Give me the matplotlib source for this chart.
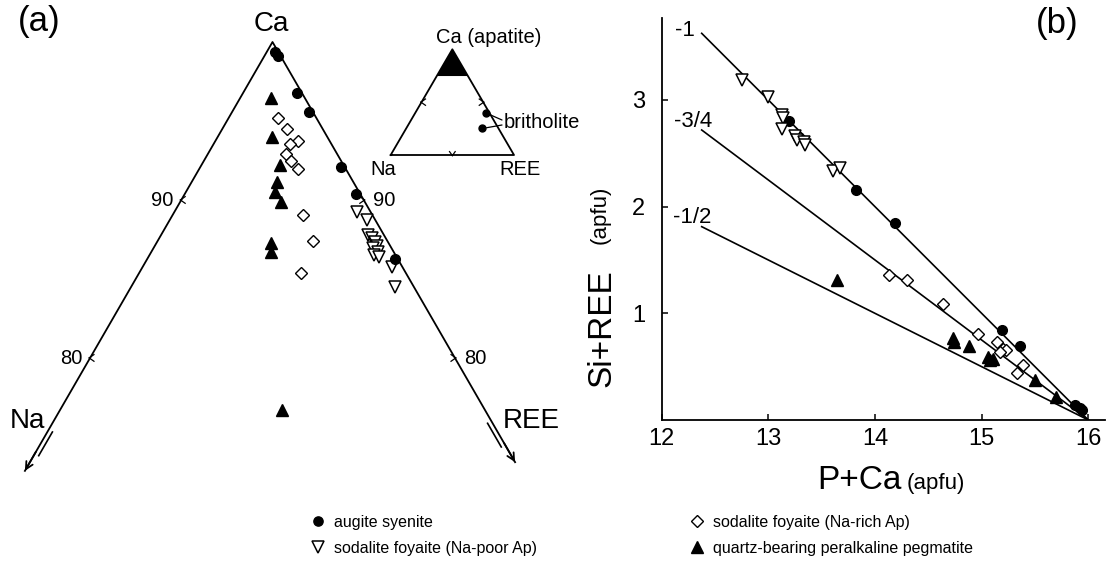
import numpy as np
import matplotlib.pyplot as plt

plt.rcParams['font.family'] = ['Liberation Sans', 'DejaVu Sans']

W, H = 1106, 568          # figure size in pixels
R3 = np.sqrt(3) / 2

# ---- (a) Ca-Na-REE ternary, atom %  (Ca = 100 - Na - REE)
aug_na = [0.17, 0.13, 0.25, 0.19, 0.21, 0.26, 0.16]
aug_ree = [0.44, 0.76, 2.96, 4.22, 7.68, 9.38, 13.59]

napoor_na = [0.75, 0.47, 0.87, 0.75, 0.71, 0.73, 1.01, 0.86, 1.18, 0.97, 0.57, 1.03]
napoor_ree = [9.99, 10.80, 11.34, 11.66, 11.95, 12.19, 12.03, 12.43, 12.31, 12.65, 13.65, 14.46]

narich_na = [2.13, 1.98, 1.71, 2.27, 2.80, 2.74, 2.61, 3.82, 4.09, 5.75]
narich_ree = [2.70, 3.54, 4.54, 4.19, 4.28, 4.77, 5.44, 7.13, 8.49, 8.85]

qtz_na = [1.88, 3.04, 3.48, 4.16, 4.60, 4.59, 6.47, 6.74, 11.12]
qtz_ree = [1.68, 2.95, 4.30, 4.68, 4.87, 5.52, 6.27, 6.54, 12.17]

side_ticks = [90, 80]
na_end, ree_end = 72.85, 73.4      # Ca value where the side arrows stop

# inset: apatite field and britholite points
apatite_ca = 74.7
brith_na = [2.55, 13.05]
brith_ree = [57.85, 61.85]

# ---- (b) Si+REE vs P+Ca (apfu)
aug_pca = [13.19, 13.82, 14.19, 15.19, 15.36, 15.875, 15.92, 15.94]
aug_sree = [2.80, 2.16, 1.85, 0.84, 0.69, 0.14, 0.11, 0.09]
napoor_pca = [12.75, 13.0, 13.125, 13.14, 13.125, 13.25, 13.27, 13.33, 13.34, 13.61, 13.67]
napoor_sree = [3.19, 3.025, 2.86, 2.83, 2.73, 2.66, 2.625, 2.61, 2.58, 2.33, 2.36]
narich_pca = [14.13, 14.30, 14.64, 14.97, 15.14, 15.20, 15.23, 15.17, 15.39, 15.33]
narich_sree = [1.36, 1.31, 1.09, 0.81, 0.73, 0.67, 0.66, 0.64, 0.52, 0.44]
qtz_pca = [13.64, 14.73, 14.74, 14.88, 15.06, 15.08, 15.11, 15.5, 15.70]
qtz_sree = [1.31, 0.77, 0.73, 0.69, 0.59, 0.56, 0.57, 0.375, 0.22]

slopes = [1.0, 0.75, 0.5]
slope_labels = ['-1', '-3/4', '-1/2']
slope_label_pos = [(12.22, 3.65), (12.29, 2.80), (12.29, 1.90)]
line_x0, line_x1 = 12.375, 16.0


def tern(na, ree):
    na = np.asarray(na, float)
    ree = np.asarray(ree, float)
    return (ree - na) / 2, (100 - na - ree) * R3


def pix(x, y):
    return x / W, 1 - y / H


def chevron(ax, x, y, ang, size, lw=0.9):
    # small arrow-like tick: vertex at (x, y), arms opening towards ang
    a = np.deg2rad(ang)
    for s in (-35, 35):
        b = a + np.deg2rad(s)
        ax.plot([x, x + size * np.cos(b)], [y, y + size * np.sin(b)],
                color='k', lw=lw, clip_on=False)


fig = plt.figure(figsize=(W / 100, H / 100), dpi=100)

# ---------------- panel (a) ----------------
sc = 18.24   # pixels per ternary unit
axa = fig.add_axes([0, 0, 1, 1])
axa.set_xlim(-272.5 / sc, (W - 272.5) / sc)
axa.set_ylim(100 * R3 - (H - 42) / sc, 100 * R3 + 42 / sc)
axa.axis('off')

xn, yn = tern(100 - na_end, 0)
xr, yr = tern(0, 100 - ree_end)
axa.plot([xn, 0, xr], [yn, 100 * R3, yr], color='k', lw=1.3)
# arrow heads and the short double line at the ends
for (xe, ye), nrm in [((xn, yn), (0.866, -0.5)), ((xr, yr), (-0.866, -0.5))]:
    ln = np.hypot(xe, ye - 100 * R3)
    ux, uy = xe / ln, (ye - 100 * R3) / ln
    axa.annotate('', xy=(xe, ye), xytext=(xe - 1.2 * ux, ye - 1.2 * uy),
                 arrowprops=dict(arrowstyle='->', lw=1.3, mutation_scale=13,
                                 shrinkA=0, shrinkB=0))
    off = 0.24
    axa.plot([xe - 2.6 * ux + off * nrm[0], xe - 1.1 * ux + off * nrm[0]],
             [ye - 2.6 * uy + off * nrm[1], ye - 1.1 * uy + off * nrm[1]],
             color='k', lw=1.2)

for t in side_ticks:
    x, y = tern(100 - t, 0)
    chevron(axa, x - 0.05, y, 0, 0.32)
    fig.text(*pix(272.5 - (100 - t) * 9.12 - 8, 42 + (100 - t) * 15.8),
             str(t), fontsize=14.5, ha='right', va='center')
    x, y = tern(0, 100 - t)
    chevron(axa, x + 0.05, y, 180, 0.32)
    fig.text(*pix(272.5 + (100 - t) * 9.12 + 9, 42 + (100 - t) * 15.8),
             str(t), fontsize=14.5, ha='left', va='center')

x, y = tern(qtz_na, qtz_ree)
axa.plot(x, y, '^', ms=8.3, color='k', ls='none', clip_on=False)
x, y = tern(narich_na, narich_ree)
axa.plot(x, y, 'D', ms=5.8, mfc='white', mec='k', mew=1.0, ls='none', clip_on=False)
x, y = tern(napoor_na, napoor_ree)
axa.plot(x, y, 'v', ms=8.8, mfc='white', mec='k', mew=1.1, ls='none', clip_on=False)
x, y = tern(aug_na, aug_ree)
axa.plot(x, y, 'o', ms=7, color='k', ls='none', clip_on=False)

fig.text(*pix(271, 24), 'Ca', fontsize=20, ha='center', va='center')
fig.text(*pix(27, 421), 'Na', fontsize=20, ha='center', va='center')
fig.text(*pix(503, 421), 'REE', fontsize=20, ha='left', va='center')
fig.text(*pix(39, 22), '(a)', fontsize=25, ha='center', va='center')

# inset triangle
axi = fig.add_axes([390.7 / W, 1 - 155 / H, 123.3 / W, 105.7 / H])
axi.set_xlim(-50, 50)
axi.set_ylim(0, 100 * R3)
axi.axis('off')
axi.plot([-50, 0, 50, -50], [0, 100 * R3, 0, 0], color='k', lw=1.3, clip_on=False)
fx, fy = tern([0, 100 - apatite_ca, 0], [0, 0, 100 - apatite_ca])
axi.fill(fx, fy, color='k', lw=0)
chevron(axi, -25.5, 43.3, 0, 4.5)
chevron(axi, 25.5, 43.3, 180, 4.5)
chevron(axi, 0, -0.5, 90, 4.0)
bx, by = tern(brith_na, brith_ree)
axi.plot(bx, by, 'o', ms=5, color='k', ls='none', clip_on=False)
for i, ty in enumerate([H - 120, H - 125]):
    axi.annotate('', xy=(bx[i], by[i]), xytext=(502, ty), textcoords='figure pixels',
                 arrowprops=dict(arrowstyle='-', lw=0.9, shrinkA=0, shrinkB=3))
fig.text(*pix(504, 128), 'britholite', fontsize=14.5, ha='left', va='baseline')
fig.text(*pix(436, 43), 'Ca (apatite)', fontsize=14.5, ha='left', va='baseline')
fig.text(*pix(383, 175), 'Na', fontsize=14.5, ha='center', va='baseline')
fig.text(*pix(520, 175), 'REE', fontsize=14.5, ha='center', va='baseline')

# ---------------- panel (b) ----------------
axb = fig.add_axes([661.7 / W, 1 - 420 / H, 443.3 / W, 402 / H])
axb.set_xlim(12, 12 + 443.3 / 106.65)
axb.set_ylim(0, 402 / 106.67)
axb.patch.set_alpha(0)
for s in ['top', 'right']:
    axb.spines[s].set_visible(False)
for s in ['left', 'bottom']:
    axb.spines[s].set_linewidth(1.3)
axb.set_xticks([12, 13, 14, 15, 16])
axb.set_yticks([1, 2, 3])
axb.tick_params(direction='in', length=4.5, width=1.1, labelsize=17, pad=6)
axb.tick_params(axis='y', pad=12)

for k, lab, (lx, ly) in zip(slopes, slope_labels, slope_label_pos):
    axb.plot([line_x0, line_x1], [k * (16 - line_x0), k * (16 - line_x1)],
             color='k', lw=1.2)
    axb.text(lx, ly, lab, fontsize=16, ha='center', va='center')

axb.plot(aug_pca, aug_sree, 'o', ms=7, color='k', ls='none', clip_on=False,
         label='augite syenite')
axb.plot(napoor_pca, napoor_sree, 'v', ms=9, mfc='white', mec='k', mew=1.1,
         ls='none', clip_on=False, label='sodalite foyaite (Na-poor Ap)')
axb.plot(narich_pca, narich_sree, 'D', ms=6.2, mfc='white', mec='k', mew=1.0,
         ls='none', clip_on=False, label='sodalite foyaite (Na-rich Ap)')
axb.plot(qtz_pca, qtz_sree, '^', ms=8.5, color='k', ls='none', clip_on=False,
         label='quartz-bearing peralkaline pegmatite')

fig.text(*pix(902, 489), 'P+Ca', fontsize=24, ha='right', va='baseline')
fig.text(*pix(907, 489), '(apfu)', fontsize=16, ha='left', va='baseline')
fig.text(*pix(610, 387), 'Si+REE', fontsize=24, rotation=90,
         rotation_mode='anchor', ha='left', va='baseline')
fig.text(*pix(606, 244), '(apfu)', fontsize=16, rotation=90,
         rotation_mode='anchor', ha='left', va='baseline')
fig.text(*pix(1057, 24), '(b)', fontsize=25, ha='center', va='center')

# legend
h, l = axb.get_legend_handles_labels()
fig.legend(h, l, ncol=2, loc='upper left', bbox_to_anchor=pix(310, 515),
           frameon=False, fontsize=11.5, handlelength=1.0, handletextpad=0.5,
           columnspacing=9.5, labelspacing=0.68, borderpad=0, borderaxespad=0,
           markerscale=0.95)

fig.savefig('out.png', dpi=100)
